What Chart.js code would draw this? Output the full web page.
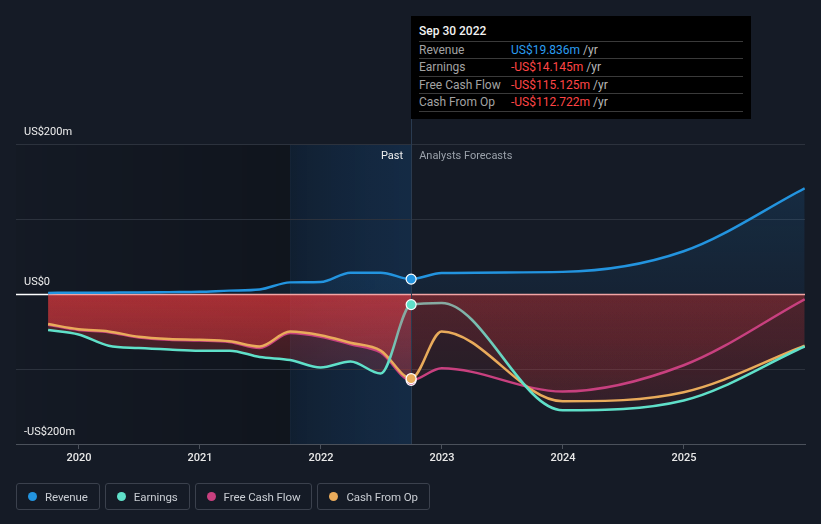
<!DOCTYPE html>
<html>
<head>
<meta charset="utf-8">
<script src="https://cdn.jsdelivr.net/npm/chart.js@4/dist/chart.umd.min.js"></script>
<style>
  html, body { margin: 0; padding: 0; background: #151b26; width: 821px; height: 524px; overflow: hidden; font-family: Roboto, "Noto Sans", sans-serif; }
  #wrap { position: absolute; left: 0; top: 0; width: 821px; height: 524px; }
  #c { position: absolute; left: 0; top: 0; }
  #tip { position: absolute; top: 16px; width: 340px; height: 103px; background: #000; color: #fff; font-size: 12px; }
  #tip .title { position: absolute; left: 8px; top: 8px; font-weight: 500; color: #f2f2f2; }
  #tip .row { position: absolute; left: 8px; width: 324px; height: 17px; border-top: 1px solid #3a3a3a; line-height: 17px; }
  #tip .lab { position: absolute; left: 0; color: #a3a3a3; }
  #tip .val { position: absolute; left: 92px; }
  #tip .unit { color: #b8b8b8; }
  #tip .last { position: absolute; left: 8px; width: 324px; top: 95px; border-top: 1px solid #3a3a3a; }
  #legend { position: absolute; left: 16px; top: 483px; display: flex; gap: 5px; }
  .item { border: 1px solid #3b414d; border-radius: 3px; height: 25px; display: flex; align-items: center; padding: 0 11px 0 11px; color: #c9cdd3; font-size: 11.5px; letter-spacing: -0.1px; }
  .dot { width: 9px; height: 9px; border-radius: 50%; margin-right: 8px; }
</style>
</head>
<body>
<div id="wrap">
  <canvas id="c" width="821" height="524"></canvas>
  <div id="tip">
    <div class="title">Sep 30 2022</div>
    <div class="row" style="top:25px"><span class="lab">Revenue</span><span class="val"><span style="color:#2b9df0">US$19.836m</span> <span class="unit">/yr</span></span></div>
    <div class="row" style="top:42px"><span class="lab">Earnings</span><span class="val"><span style="color:#ff4545">-US$14.145m</span> <span class="unit">/yr</span></span></div>
    <div class="row" style="top:60px"><span class="lab">Free Cash Flow</span><span class="val"><span style="color:#ff4545">-US$115.125m</span> <span class="unit">/yr</span></span></div>
    <div class="row" style="top:77px"><span class="lab">Cash From Op</span><span class="val"><span style="color:#ff4545">-US$112.722m</span> <span class="unit">/yr</span></span></div>
    <div class="last"></div>
  </div>
  <div id="legend">
    <div class="item"><span class="dot" style="background:#2394df"></span>Revenue</div>
    <div class="item"><span class="dot" style="background:#5fe0c9"></span>Earnings</div>
    <div class="item"><span class="dot" style="background:#c8407f"></span>Free Cash Flow</div>
    <div class="item"><span class="dot" style="background:#e9ab5b"></span>Cash From Op</div>
  </div>
</div>
<script>
// ---- Data (US$ millions) ----
const dates = ['2019-09-30','2019-12-31','2020-03-31','2020-06-30','2020-09-30','2020-12-31','2021-03-31','2021-06-30','2021-09-30','2021-12-31','2022-03-31','2022-06-30','2022-09-30','2022-12-31','2023-12-31','2024-12-31','2025-12-31'];
const revenue      = [1.5, 1.6, 1.8, 2.0, 2.5, 3.0, 4.5, 6.0, 15.5, 16.0, 28.5, 28.5, 19.836, 28.0, 29.5, 57, 141];
const earnings     = [-48, -54, -69, -72, -74, -75.5, -75.5, -84, -88, -98, -90, -106, -14.145, -12, -155, -142, -70];
const freeCashFlow = [-41, -48, -51, -58, -61, -62, -64, -72, -52, -57, -67, -78, -115.125, -99, -130, -95, -7];
const cashFromOp   = [-40, -47, -50, -57, -60, -61, -63, -70, -50, -55, -65, -75.5, -112.722, -50, -143, -131, -69];
const todayDate = '2022-09-30';
const highlightStart = '2021-09-30';
const yearTicks = [2020, 2021, 2022, 2023, 2024, 2025];
const yLabels = [{v: 200, t: 'US$200m'}, {v: 0, t: 'US$0'}, {v: -200, t: '-US$200m'}];
const xMin = 2019.48, xMax = 2026.0;

function toYear(s) {
  const [y, m, d] = s.split('-').map(Number);
  const start = Date.UTC(y, 0, 1), end = Date.UTC(y + 1, 0, 1);
  return y + (Date.UTC(y, m - 1, d) - start) / (end - start);
}
const xs = dates.map(toYear);
const todayX = toYear(todayDate);
const hlX = toYear(highlightStart);
const todayIdx = dates.indexOf(todayDate);
const pts = arr => arr.map((v, i) => ({x: xs[i], y: v}));

const C_REV = '#2394df', C_EARN = '#5fe0c9', C_FCF = '#c8407f', C_CFO = '#e9ab5b';

let redCache = null;
function redPattern(ctx) {
  const chart = ctx.chart; const ca = chart.chartArea;
  if (!ca) return 'rgba(220,60,60,0.2)';
  const key = ca.left + ',' + ca.top + ',' + ca.right + ',' + ca.bottom;
  if (redCache && redCache.key === key) return redCache.p;
  const W = chart.width, H = chart.height;
  const oc = document.createElement('canvas'); oc.width = W; oc.height = H;
  const o = oc.getContext('2d');
  const yz = chart.scales.y.getPixelForValue(0);
  const tx = chart.scales.x.getPixelForValue(todayX);
  let g = o.createLinearGradient(0, yz, 0, ca.bottom);
  g.addColorStop(0, 'rgba(232,58,62,0.33)'); g.addColorStop(1, 'rgba(232,58,62,0.07)');
  o.fillStyle = g; o.fillRect(0, 0, tx, H);
  g = o.createLinearGradient(0, yz, 0, ca.bottom);
  g.addColorStop(0, 'rgba(232,58,62,0.15)'); g.addColorStop(1, 'rgba(232,58,62,0.05)');
  o.fillStyle = g; o.fillRect(tx, 0, W - tx, H);
  const p = chart.ctx.createPattern(oc, 'no-repeat');
  redCache = {key, p};
  return p;
}
function blueFill(ctx) {
  const chart = ctx.chart; const ca = chart.chartArea;
  if (!ca) return 'rgba(33,150,243,0.1)';
  const yz = chart.scales.y.getPixelForValue(0);
  const g = chart.ctx.createLinearGradient(0, ca.top, 0, yz);
  g.addColorStop(0, 'rgba(33,150,243,0.16)'); g.addColorStop(1, 'rgba(33,150,243,0.07)');
  return g;
}
function earnColor(ctx) {
  const chart = ctx.chart; const ca = chart.chartArea;
  if (!ca) return C_EARN;
  const sx = chart.scales.x;
  const g = chart.ctx.createLinearGradient(ca.left, 0, ca.right, 0);
  const w = ca.right - ca.left;
  const f = v => Math.min(1, Math.max(0, (sx.getPixelForValue(v) - ca.left) / w));
  g.addColorStop(0, C_EARN);
  g.addColorStop(f(2022.55), C_EARN);
  g.addColorStop(f(2022.65), '#86aaa2');
  g.addColorStop(f(2023.1), '#86aaa2');
  g.addColorStop(f(2023.6), C_EARN);
  g.addColorStop(1, C_EARN);
  return g;
}

const pr = i => i === todayIdx ? 5 : 0;

const bgPlugin = {
  id: 'bgPlugin',
  beforeDraw(chart) {
    const {ctx, chartArea: ca, scales: {x}} = chart;
    const hx = x.getPixelForValue(hlX), tx = x.getPixelForValue(todayX);
    ctx.save();
    let g = ctx.createLinearGradient(ca.left, 0, hx, 0);
    g.addColorStop(0, 'rgba(0,0,0,0.03)'); g.addColorStop(1, 'rgba(0,0,0,0.22)');
    ctx.fillStyle = g; ctx.fillRect(ca.left, ca.top, hx - ca.left, ca.bottom - ca.top);
    g = ctx.createLinearGradient(hx, 0, tx, 0);
    g.addColorStop(0, 'rgba(10,40,70,0.35)'); g.addColorStop(1, 'rgba(20,90,160,0.25)');
    ctx.fillStyle = g; ctx.fillRect(hx, ca.top, tx - hx, ca.bottom - ca.top);
    ctx.fillStyle = 'rgba(120,160,200,0.06)'; ctx.fillRect(hx, ca.top, 1, ca.bottom - ca.top);
    ctx.restore();
  },
  beforeDatasetsDraw(chart) {
    const {ctx, chartArea: ca, scales: {x, y}} = chart;
    const yz = Math.round(y.getPixelForValue(0)) + 0.5;
    const x0 = x.getPixelForValue(xs[0]);
    const tx = Math.round(x.getPixelForValue(todayX)) + 0.5;
    ctx.save();
    ctx.lineWidth = 1.5;
    ctx.strokeStyle = '#ffffff';
    ctx.beginPath(); ctx.moveTo(ca.left, yz); ctx.lineTo(x0, yz); ctx.stroke();
    ctx.strokeStyle = '#f2a5a5';
    ctx.beginPath(); ctx.moveTo(x0, yz); ctx.lineTo(ca.right, yz); ctx.stroke();
    ctx.lineWidth = 1;
    ctx.strokeStyle = '#2a3b50';
    ctx.beginPath(); ctx.moveTo(tx, 16); ctx.lineTo(tx, ca.bottom); ctx.stroke();
    ctx.restore();
  },
  afterDraw(chart) {
    const {ctx, chartArea: ca, scales: {x, y}} = chart;
    const tx = x.getPixelForValue(todayX);
    ctx.save();
    ctx.font = '11px Roboto, "Noto Sans", sans-serif';
    ctx.textBaseline = 'middle';
    ctx.fillStyle = '#eeeeee';
    ctx.textAlign = 'left';
    yLabels.forEach(l => ctx.fillText(l.t, ca.left + 8, y.getPixelForValue(l.v) - 12));
    ctx.textAlign = 'right';
    ctx.fillText('Past', tx - 8, ca.top + 12);
    ctx.textAlign = 'left';
    ctx.fillStyle = '#9aa1aa';
    ctx.fillText('Analysts Forecasts', tx + 8, ca.top + 12);
    ctx.restore();
  }
};

const common = {
  cubicInterpolationMode: 'monotone',
  borderWidth: 2.5,
  pointBorderColor: '#ffffff',
  pointBorderWidth: 1.2,
  pointHoverRadius: 5,
};

const chart = new Chart(document.getElementById('c'), {
  type: 'line',
  data: {
    datasets: [
      Object.assign({}, common, {label: 'Revenue', data: pts(revenue), borderColor: C_REV, pointBackgroundColor: C_REV,
        pointRadius: ctx => pr(ctx.dataIndex), fill: 'origin', backgroundColor: blueFill, order: 4}),
      Object.assign({}, common, {label: 'Free Cash Flow', data: pts(freeCashFlow), borderColor: C_FCF, pointBackgroundColor: C_FCF,
        pointRadius: ctx => pr(ctx.dataIndex), fill: 'origin', backgroundColor: redPattern, order: 3}),
      Object.assign({}, common, {label: 'Cash From Op', data: pts(cashFromOp), borderColor: C_CFO, pointBackgroundColor: C_CFO,
        pointRadius: ctx => pr(ctx.dataIndex), fill: 'origin', backgroundColor: redPattern, order: 2}),
      Object.assign({}, common, {label: 'Earnings', data: pts(earnings), borderColor: earnColor, pointBackgroundColor: C_EARN,
        pointRadius: ctx => pr(ctx.dataIndex), fill: 'origin', backgroundColor: redPattern, order: 1}),
    ]
  },
  options: {
    responsive: false,
    animation: false,
    events: [],
    layout: {padding: {left: 16, right: 16, top: 144, bottom: 60}},
    plugins: {legend: {display: false}, tooltip: {enabled: false}, filler: {drawTime: 'beforeDatasetsDraw'}},
    scales: {
      x: {
        type: 'linear', min: xMin, max: xMax,
        afterBuildTicks: s => { s.ticks = yearTicks.map(v => ({value: v})); },
        afterFit: s => { s.height = 20; },
        grid: {drawOnChartArea: false, drawTicks: true, tickLength: 5, color: '#4b515b'},
        border: {color: '#4b515b', width: 1},
        ticks: {color: '#e8e8e8', font: {family: 'Roboto, "Noto Sans", sans-serif', size: 11, weight: '500'}, padding: 3,
          callback: v => String(v), maxRotation: 0}
      },
      y: {
        min: -200, max: 200,
        afterBuildTicks: s => { s.ticks = [-200, -100, 0, 100, 200].map(v => ({value: v})); },
        afterFit: s => { s.width = 0; },
        ticks: {display: false},
        border: {display: false},
        grid: {drawTicks: false, color: c => (c.tick && c.tick.value === 0) ? 'rgba(0,0,0,0)' : '#2c323d', lineWidth: 1}
      }
    }
  },
  plugins: [bgPlugin]
});
document.getElementById('tip').style.left = Math.round(chart.scales.x.getPixelForValue(todayX)) + 'px';
</script>
</body>
</html>
